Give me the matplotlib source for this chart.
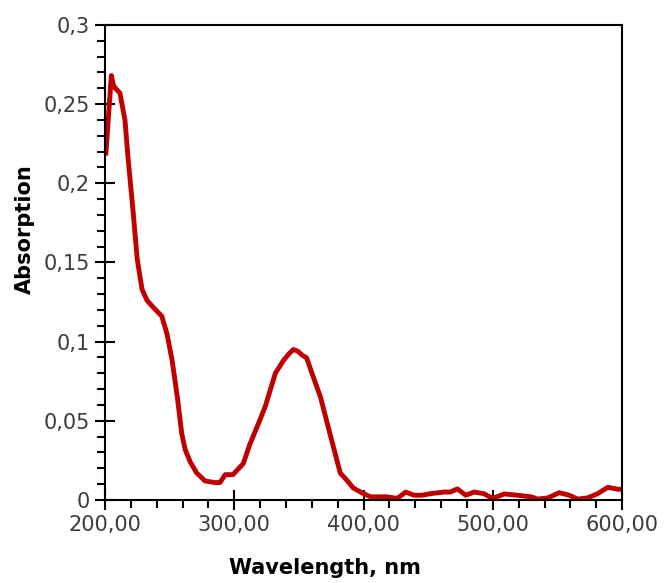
import numpy as np
import matplotlib.pyplot as plt
from matplotlib.ticker import MultipleLocator, FuncFormatter

# absorption spectrum
wl = [200.8, 203, 205, 206.5, 208, 211.6, 215.5, 218, 221.7, 225, 228.7, 232.6, 237, 244,
      248, 252, 256, 259.4, 262, 266, 271, 277.5, 285, 289, 293, 299, 307, 312, 317.6, 324,
      331.8, 338, 342, 345.7, 349, 352.5, 356, 361, 366.7, 374, 382, 387, 392, 399, 405.4, 418,
      426, 432.6, 439, 445, 452, 462, 467, 472.6, 479, 485.5, 493, 499.8, 508.8, 519,
      529.5, 534.6, 542.4, 551.4, 559, 565.6, 573.3, 581, 588.9, 596.6, 600]
absorb = [0.219, 0.245, 0.268, 0.262, 0.260, 0.257, 0.240, 0.215, 0.183, 0.152, 0.133,
          0.126, 0.122, 0.116, 0.105, 0.088, 0.065, 0.042, 0.032, 0.024, 0.017, 0.012, 0.011,
          0.011, 0.016, 0.016, 0.023, 0.035, 0.046, 0.059, 0.080, 0.088, 0.092, 0.095, 0.094,
          0.0915, 0.0897, 0.078, 0.065, 0.042, 0.017, 0.0126, 0.0076, 0.0044, 0.002, 0.002,
          0.001, 0.005, 0.003, 0.003, 0.004, 0.005, 0.005, 0.007, 0.003, 0.005, 0.004,
          0.001, 0.0038, 0.003, 0.002, 0.0006, 0.0013, 0.0046, 0.003, 0.0006, 0.0013,
          0.004, 0.008, 0.0068, 0.0068]

fig = plt.figure(figsize=(6.64, 5.83), dpi=100)
ax = fig.add_axes([0.158, 0.1424, 0.779, 0.815])
ax.plot(wl, absorb, color='#c00000', lw=3.5, solid_joinstyle='round')

ax.set_xlim(200, 600)
ax.set_ylim(0, 0.3)
ax.xaxis.set_major_locator(MultipleLocator(100))
ax.xaxis.set_minor_locator(MultipleLocator(20))
ax.yaxis.set_major_locator(MultipleLocator(0.05))
ax.yaxis.set_minor_locator(MultipleLocator(0.01))
ax.xaxis.set_major_formatter(FuncFormatter(lambda v, p: f'{v:.2f}'.replace('.', ',')))
ax.yaxis.set_major_formatter(FuncFormatter(lambda v, p: '0' if v == 0 else f'{v:.2f}'.rstrip('0').replace('.', ',')))

for s in ax.spines.values():
    s.set_linewidth(1.5)
ax.tick_params(which='major', direction='inout', length=14, width=1.5,
               labelsize=15, labelcolor='#3c3c3c', pad=4)
ax.tick_params(which='minor', direction='out', length=6, width=1.5)

ax.set_xlabel('Wavelength, nm', fontsize=15, fontweight='bold')
ax.set_ylabel('Absorption', fontsize=15, fontweight='bold')
ax.xaxis.set_label_coords(0.4255, -0.143)
ax.yaxis.set_label_coords(-0.155, 0.57)
ax.xaxis.label.set_va('center')
ax.yaxis.label.set_va('center')

fig.savefig('out.png', dpi=100)
